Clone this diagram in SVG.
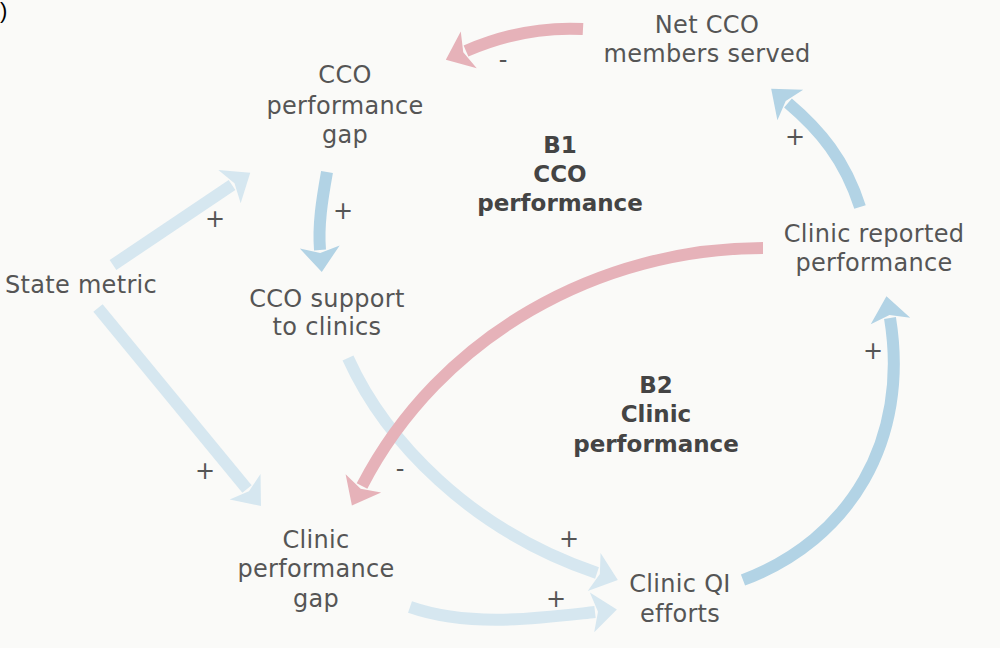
<svg xmlns="http://www.w3.org/2000/svg" width="1000" height="648" viewBox="0 0 1000 648">
<defs>
<style>
.lbl{font-family:"DejaVu Sans","Open Sans",sans-serif;font-size:24px;fill:#555;text-anchor:middle;letter-spacing:0.3px}
.loop{font-family:"DejaVu Sans","Open Sans",sans-serif;font-size:23px;font-weight:bold;fill:#444;text-anchor:middle}
.sgn{font-family:"DejaVu Sans","Open Sans",sans-serif;font-size:24px;fill:#555;text-anchor:middle}
.c{fill:none;stroke-width:12}
.lb{stroke:#d6e7f0}
.db{stroke:#b2d3e5}
.pk{stroke:#e6b2b9}
</style>
<marker id="hlb" markerUnits="userSpaceOnUse" orient="auto" refX="0" refY="0" markerWidth="60" markerHeight="60" viewBox="-10 -30 40 60" overflow="visible"><path d="M22,0 L-3,-20 L3,0 L-3,20 Z" fill="#d6e7f0"/></marker>
<marker id="hdb" markerUnits="userSpaceOnUse" orient="auto" refX="0" refY="0" markerWidth="60" markerHeight="60" viewBox="-10 -30 40 60" overflow="visible"><path d="M22,0 L-3,-20 L3,0 L-3,20 Z" fill="#b2d3e5"/></marker>
<marker id="hpk" markerUnits="userSpaceOnUse" orient="auto" refX="0" refY="0" markerWidth="60" markerHeight="60" viewBox="-10 -30 40 60" overflow="visible"><path d="M22,0 L-3,-20 L3,0 L-3,20 Z" fill="#e6b2b9"/></marker>
</defs>
<rect width="1000" height="648" fill="#fafaf8"/>
<text x="0" y="18" font-family="Liberation Sans, sans-serif" font-size="22" fill="#000">)</text>
<g id="connectors">
<path class="c pk" d="M583,29 C545,27 505,34 466,51" marker-end="url(#hpk)"/>
<path class="c db" d="M327,172 C322,200 318,225 320,250" marker-end="url(#hdb)"/>
<path class="c lb" d="M113,265 L232,185" marker-end="url(#hlb)"/>
<path class="c lb" d="M98,308 L247,489" marker-end="url(#hlb)"/>
<path class="c lb" d="M348,358 C385,440 470,530 597,573" marker-end="url(#hlb)"/>
<path class="c pk" d="M763,248 C600,248 440,335 362,486" marker-end="url(#hpk)"/>
<path class="c lb" d="M410,607 C470,628 540,618 595,612" marker-end="url(#hlb)"/>
<path class="c db" d="M743,580 C850,540 910,440 890,318" marker-end="url(#hdb)"/>
<path class="c db" d="M860,207 C845,160 820,130 788,103" marker-end="url(#hdb)"/>
</g>
<g id="signs">
<text class="sgn" x="503" y="68">-</text>
<text class="sgn" x="215" y="227">+</text>
<text class="sgn" x="343" y="219">+</text>
<text class="sgn" x="795" y="145">+</text>
<text class="sgn" x="205" y="479">+</text>
<text class="sgn" x="400" y="477">-</text>
<text class="sgn" x="569" y="547">+</text>
<text class="sgn" x="556" y="607">+</text>
<text class="sgn" x="873" y="359">+</text>
</g>
<g id="net-cco"><text class="lbl" x="707" y="33">Net CCO</text><text class="lbl" x="707" y="62">members served</text></g>
<g id="cco-gap"><text class="lbl" x="345" y="83">CCO</text><text class="lbl" x="345" y="114">performance</text><text class="lbl" x="345" y="143">gap</text></g>
<g id="state-metric"><text class="lbl" x="81" y="293">State metric</text></g>
<g id="cco-support"><text class="lbl" x="327" y="307">CCO support</text><text class="lbl" x="327" y="335">to clinics</text></g>
<g id="clinic-reported"><text class="lbl" x="874" y="242">Clinic reported</text><text class="lbl" x="874" y="271">performance</text></g>
<g id="clinic-gap"><text class="lbl" x="316" y="548">Clinic</text><text class="lbl" x="316" y="577">performance</text><text class="lbl" x="316" y="607">gap</text></g>
<g id="clinic-qi"><text class="lbl" x="680" y="592">Clinic QI</text><text class="lbl" x="680" y="622">efforts</text></g>
<g id="loop-b1"><text class="loop" x="560" y="153">B1</text><text class="loop" x="560" y="182">CCO</text><text class="loop" x="560" y="211">performance</text></g>
<g id="loop-b2"><text class="loop" x="656" y="393">B2</text><text class="loop" x="656" y="422">Clinic</text><text class="loop" x="656" y="452">performance</text></g>
</svg>
